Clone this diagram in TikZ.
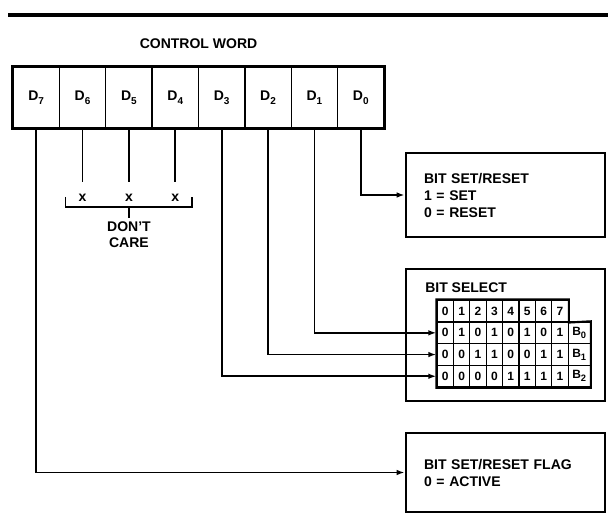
\documentclass[tikz,border=0pt]{standalone}
\usepackage{fontspec}
\setmainfont{Liberation Sans}
\usetikzlibrary{positioning,arrows.meta,calc}
\newcommand{\dbit}[1]{D\raisebox{-0.55ex}{\fontsize{7.5pt}{8pt}\selectfont #1}}
\newcommand{\bbit}[1]{B\raisebox{-0.5ex}{\fontsize{7pt}{8pt}\selectfont #1}}
\tikzset{
  every node/.style={font=\fontsize{10.5pt}{12.75pt}\selectfont\bfseries},
  cell/.style={draw, line width=1.1pt, minimum width=34.78pt, minimum height=45.75pt, inner sep=0pt},
  outbox/.style={draw, line width=2pt, minimum width=149.25pt, text width=122.25pt,
                 inner xsep=13.5pt, inner ysep=0pt, align=left},
  tcell/.style={draw, line width=1pt, minimum width=12.3pt, minimum height=16.3pt, inner sep=0pt,
                font=\fontsize{9pt}{10pt}\selectfont\bfseries},
  bcell/.style={tcell, minimum width=16.5pt},
  xmark/.style={inner sep=0pt, minimum height=24pt},
  conn/.style={-{Latex[length=6pt,width=4.2pt]}, line width=1.3pt},
  wire/.style={line width=1.3pt},
}
\begin{document}
\begin{tikzpicture}[x=0.75pt,y=-0.75pt]
\fill[white] (0,0) rectangle (608,513);
\useasboundingbox (0,0) rectangle (608,513);
% ---- rule and control word ----
\draw[line width=2.8pt] (8,15) -- (608,15);
\foreach \i in {0,...,7}{
  \node[cell] (d\i) at ({36.2+(7-\i)*46.375},97.5) {\dbit{\i}};
}
\draw[line width=2pt] (d7.north west) rectangle (d0.south east);
\draw[line width=2.6pt] (d7.south west) -- (d0.south east);
\node (cwtitle) at ($(d7.north west)!0.5!(d0.north east)+(0,-23)$) {CONTROL WORD};
% ---- don't care bits ----
\coordinate (xrow) at (0,198);
\foreach \i in {6,5,4}{
  \node[xmark] (x\i) at (d\i |- xrow) {x};
  \draw[wire] (d\i.south) -- (x\i.north);
}
\draw[wire] ($(x6.center)+(-17,-1)$) -- ($(x6.center)+(-17,9)$) -- ($(x4.center)+(17,9)$) -- ($(x4.center)+(17,-1)$);
\draw[wire] ($(x5.center)+(0,9)$) -- ($(x5.center)+(0,20)$);
\node[anchor=north, align=center, inner sep=0pt, font=\fontsize{10.5pt}{12pt}\selectfont\bfseries] (care) at ($(x5.center)+(0,23)$) {DON'T\\CARE};
% ---- result boxes ----
\node[outbox, minimum height=63pt] (setreset) at (505.5,195) {BIT SET/RESET\\1 = SET\\0 = RESET};
\node[outbox, minimum height=99pt] (bitsel) at (505.5,335) {};
\node[anchor=west, inner sep=0pt] (selttl) at (425,288) {BIT SELECT};
\node[outbox, minimum height=59.25pt] (flag) at (505.5,472.5) {BIT SET/RESET FLAG\\0 = ACTIVE};
% ---- bit select table ----
\foreach \c in {0,...,7}{
  \node[tcell] (h\c) at ({445.2+16.4*\c},311) {\c};
}
\foreach \r/\bits in {0/{0,1,0,1,0,1,0,1}, 1/{0,0,1,1,0,0,1,1}, 2/{0,0,0,0,1,1,1,1}}{
  \foreach \v [count=\c from 0] in \bits{
    \node[tcell] (r\r c\c) at ({445.2+16.4*\c},{332.85+21.7*\r}) {\v};
  }
  \node[bcell] (b\r) at (579.2,{332.85+21.7*\r}) {\bbit{\r}};
}
\draw[line width=1.6pt] (h0.north west) -- (h7.north east) -- (h7.south east) -- (b0.north east)
  -- (b2.south east) -- (r2c0.south west) -- cycle;
% ---- connectors ----
\draw[conn] (d0.south) |- (setreset.west);
\draw[conn] (d1.south) |- (r0c0.west);
\draw[conn] (d2.south) |- (r1c0.west);
\draw[conn] (d3.south) |- (r2c0.west);
\draw[conn] (d7.south) |- (flag.west);
\end{tikzpicture}
\end{document}
